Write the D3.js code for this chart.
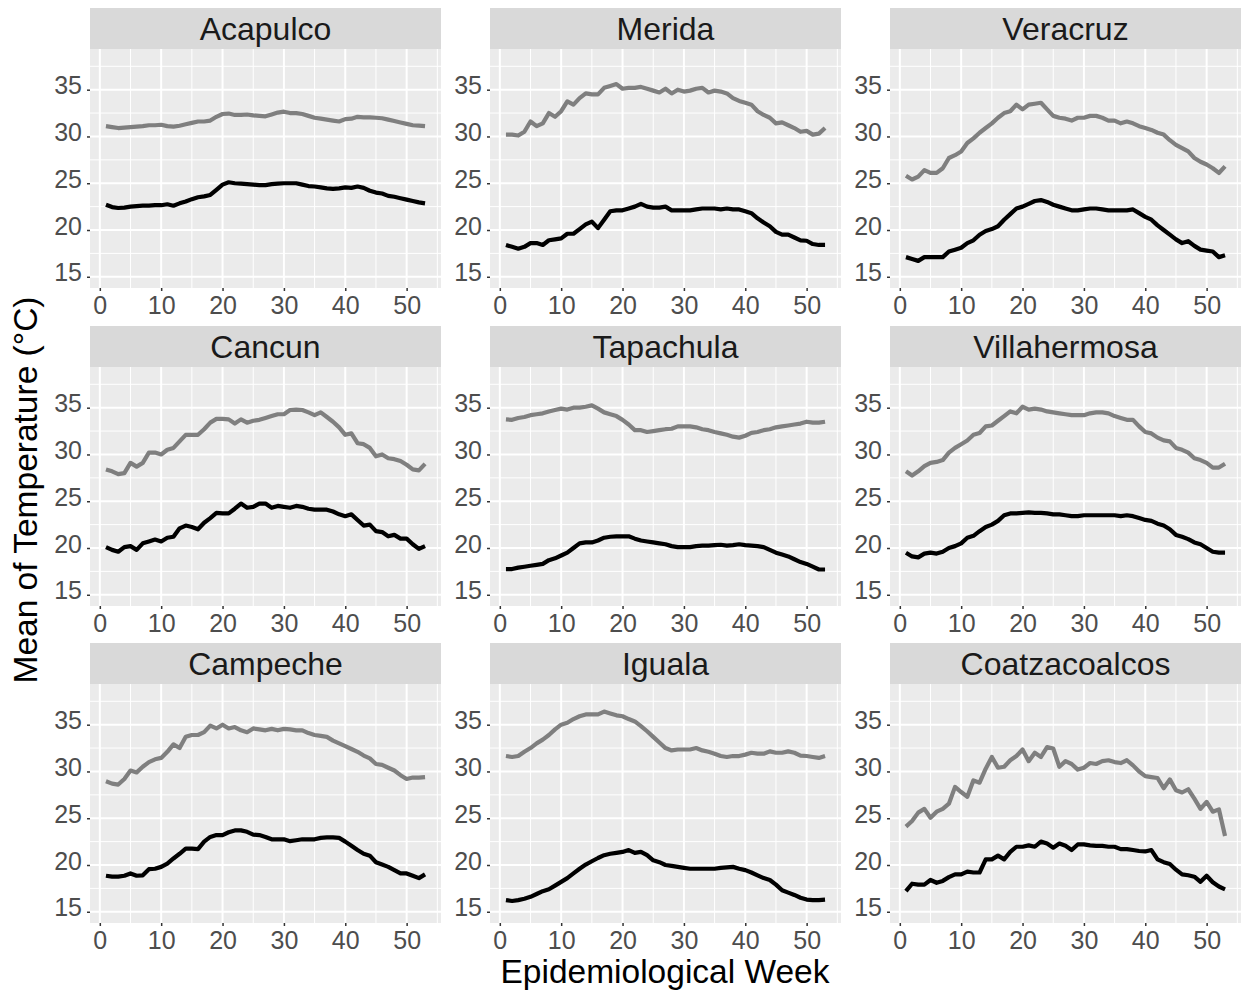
<!DOCTYPE html>
<html>
<head>
<meta charset="utf-8">
<script src="https://cdn.jsdelivr.net/npm/d3@7"></script>
<style>
  body { margin: 0; background: #ffffff; }
  text { font-family: "Liberation Sans", Arial, sans-serif; }
</style>
</head>
<body>
<div id="chart"></div>
<script>
// weeks 1..53
var weeks = d3.range(1, 54);

var cities = ["Acapulco", "Merida", "Veracruz", "Cancun", "Tapachula", "Villahermosa", "Campeche", "Iguala", "Coatzacoalcos"];

var xTicks = [0, 10, 20, 30, 40, 50];
var yTicks = [15, 20, 25, 30, 35];

// gray line = max temperature, black line = min temperature
var acapulcoMax = [31.1,31.0,30.9,30.95,31.0,31.05,31.1,31.2,31.2,31.25,31.1,31.05,31.15,31.3,31.45,31.6,31.6,31.7,32.1,32.4,32.45,32.3,32.3,32.35,32.25,32.2,32.15,32.35,32.55,32.65,32.5,32.5,32.4,32.2,32.0,31.9,31.8,31.7,31.6,31.85,31.9,32.1,32.05,32.05,32.0,31.95,31.8,31.65,31.5,31.35,31.2,31.15,31.1];
var acapulcoMin = [22.7,22.45,22.35,22.4,22.5,22.55,22.6,22.6,22.65,22.65,22.75,22.6,22.85,23.05,23.3,23.5,23.6,23.75,24.3,24.85,25.1,25.0,24.95,24.9,24.85,24.8,24.8,24.9,24.95,25.0,25.0,25.0,24.85,24.7,24.65,24.55,24.45,24.4,24.45,24.55,24.5,24.65,24.5,24.2,24.0,23.9,23.65,23.55,23.4,23.25,23.1,22.95,22.85];

var meridaMax = [30.2,30.2,30.1,30.5,31.6,31.1,31.4,32.5,32.1,32.7,33.75,33.4,34.1,34.6,34.5,34.5,35.2,35.4,35.6,35.1,35.2,35.2,35.3,35.1,34.9,34.7,35.1,34.6,35.0,34.8,34.9,35.1,35.2,34.7,34.9,34.8,34.6,34.1,33.8,33.6,33.4,32.7,32.3,32.0,31.4,31.5,31.2,30.9,30.5,30.6,30.2,30.3,30.9];
var meridaMin = [18.4,18.2,18.0,18.2,18.6,18.6,18.4,18.9,19.0,19.1,19.6,19.6,20.1,20.6,20.9,20.2,21.1,22.0,22.1,22.1,22.3,22.5,22.8,22.5,22.4,22.4,22.5,22.1,22.1,22.1,22.1,22.2,22.3,22.3,22.3,22.2,22.3,22.2,22.2,22.0,21.8,21.25,20.8,20.4,19.8,19.5,19.5,19.2,18.9,18.85,18.5,18.4,18.4];

var veracruzMax = [25.8,25.4,25.7,26.4,26.1,26.1,26.6,27.7,28.0,28.4,29.3,29.8,30.4,30.9,31.4,32.0,32.5,32.7,33.4,32.9,33.4,33.5,33.6,32.9,32.2,32.0,31.9,31.7,32.0,32.0,32.2,32.2,32.0,31.7,31.7,31.4,31.6,31.4,31.1,30.9,30.7,30.4,30.2,29.6,29.1,28.75,28.4,27.7,27.3,27.0,26.6,26.1,26.8];
var veracruzMin = [17.1,16.9,16.7,17.1,17.1,17.1,17.1,17.7,17.9,18.1,18.6,18.9,19.5,19.9,20.1,20.4,21.1,21.7,22.3,22.5,22.8,23.1,23.2,23.0,22.7,22.5,22.3,22.1,22.1,22.2,22.3,22.3,22.2,22.1,22.1,22.1,22.1,22.2,21.8,21.4,21.1,20.5,20.0,19.5,19.0,18.6,18.8,18.3,17.9,17.8,17.7,17.1,17.3];

var cancunMax = [28.4,28.2,27.9,28.0,29.1,28.7,29.1,30.2,30.2,30.0,30.5,30.7,31.4,32.1,32.1,32.1,32.7,33.4,33.8,33.8,33.75,33.3,33.75,33.4,33.6,33.7,33.9,34.1,34.3,34.3,34.75,34.8,34.75,34.5,34.2,34.5,34.0,33.5,32.9,32.1,32.25,31.2,31.1,30.7,29.8,30.0,29.6,29.5,29.3,28.9,28.4,28.3,29.0];
var cancunMin = [20.1,19.8,19.6,20.1,20.2,19.8,20.5,20.7,20.9,20.7,21.1,21.2,22.1,22.4,22.25,22.0,22.7,23.2,23.75,23.7,23.7,24.2,24.75,24.3,24.4,24.75,24.75,24.3,24.5,24.4,24.3,24.5,24.4,24.2,24.1,24.1,24.1,23.9,23.6,23.4,23.6,23.0,22.4,22.5,21.8,21.7,21.25,21.4,21.0,21.0,20.4,19.9,20.2];

var tapachulaMax = [33.75,33.7,33.9,34.0,34.2,34.3,34.4,34.6,34.75,34.9,34.8,35.0,35.0,35.1,35.25,34.9,34.5,34.3,34.1,33.7,33.2,32.6,32.6,32.4,32.5,32.6,32.7,32.75,33.0,33.0,33.0,32.9,32.7,32.6,32.4,32.25,32.1,31.9,31.8,32.0,32.3,32.4,32.6,32.7,32.9,33.0,33.1,33.2,33.3,33.5,33.4,33.4,33.5];
var tapachulaMin = [17.75,17.75,17.9,18.0,18.1,18.2,18.3,18.7,18.9,19.2,19.5,20.0,20.5,20.6,20.6,20.8,21.1,21.2,21.25,21.25,21.25,21.0,20.8,20.7,20.6,20.5,20.4,20.2,20.1,20.1,20.1,20.2,20.25,20.25,20.3,20.35,20.25,20.3,20.4,20.3,20.25,20.2,20.1,19.8,19.5,19.3,19.1,18.8,18.5,18.3,18.0,17.7,17.7];

var villahermosaMax = [28.2,27.75,28.2,28.75,29.1,29.2,29.4,30.2,30.7,31.1,31.5,32.1,32.3,33.0,33.1,33.6,34.1,34.6,34.4,35.1,34.8,34.9,34.8,34.6,34.5,34.4,34.3,34.2,34.2,34.2,34.4,34.5,34.5,34.4,34.1,33.9,33.7,33.7,33.0,32.4,32.25,31.8,31.5,31.4,30.7,30.5,30.2,29.6,29.4,29.1,28.6,28.6,29.0];
var villahermosaMin = [19.5,19.1,19.0,19.4,19.5,19.4,19.6,20.0,20.2,20.5,21.1,21.3,21.8,22.25,22.5,22.9,23.5,23.7,23.7,23.75,23.8,23.75,23.75,23.7,23.6,23.6,23.5,23.4,23.4,23.5,23.5,23.5,23.5,23.5,23.5,23.4,23.5,23.4,23.2,23.0,22.9,22.6,22.4,22.0,21.4,21.2,20.95,20.6,20.4,20.0,19.6,19.5,19.5];

var campecheMax = [28.95,28.7,28.6,29.2,30.1,29.9,30.5,31.0,31.3,31.45,32.1,32.9,32.5,33.7,33.9,33.9,34.2,34.9,34.6,35.0,34.6,34.75,34.4,34.2,34.6,34.5,34.4,34.55,34.4,34.55,34.5,34.4,34.4,34.1,33.9,33.8,33.7,33.3,33.0,32.7,32.4,32.1,31.7,31.4,30.8,30.7,30.4,30.1,29.6,29.2,29.35,29.35,29.4];
var campecheMin = [18.85,18.75,18.75,18.85,19.1,18.85,18.9,19.55,19.6,19.8,20.15,20.7,21.2,21.75,21.75,21.7,22.5,23.0,23.2,23.2,23.5,23.7,23.7,23.55,23.25,23.2,23.0,22.75,22.75,22.75,22.55,22.65,22.75,22.75,22.75,22.9,22.95,22.95,22.9,22.5,22.05,21.6,21.2,21.0,20.3,20.05,19.8,19.45,19.1,19.1,18.85,18.6,19.0];

var igualaMax = [31.65,31.55,31.65,32.1,32.5,33.0,33.4,33.9,34.5,35.0,35.2,35.6,35.9,36.1,36.1,36.1,36.4,36.2,36.0,35.9,35.6,35.35,34.85,34.3,33.7,33.1,32.5,32.25,32.35,32.35,32.35,32.5,32.25,32.1,31.9,31.65,31.55,31.65,31.65,31.8,32.0,31.9,31.9,32.15,32.0,32.0,32.15,32.0,31.7,31.65,31.55,31.45,31.65];
var igualaMin = [16.25,16.15,16.25,16.4,16.6,16.9,17.2,17.4,17.8,18.2,18.6,19.1,19.6,20.05,20.4,20.75,21.05,21.2,21.3,21.4,21.6,21.3,21.4,21.05,20.5,20.3,20.0,19.9,19.8,19.7,19.6,19.6,19.6,19.6,19.6,19.7,19.75,19.8,19.6,19.45,19.2,18.9,18.6,18.4,17.9,17.3,17.05,16.8,16.5,16.3,16.25,16.25,16.3];

var coatzacoalcosMax = [24.1,24.7,25.6,26.0,25.05,25.7,26.0,26.55,28.35,27.8,27.3,29.05,28.8,30.3,31.55,30.4,30.5,31.2,31.65,32.35,31.1,32.0,31.55,32.6,32.45,30.5,31.1,30.8,30.2,30.4,30.9,30.8,31.1,31.2,31.0,30.9,31.2,30.65,30.0,29.5,29.4,29.3,28.2,29.15,28.0,27.75,28.1,27.1,26.0,26.75,25.7,25.95,23.1];
var coatzacoalcosMin = [17.2,18.0,17.9,17.9,18.4,18.1,18.3,18.7,19.0,19.0,19.3,19.2,19.2,20.6,20.6,21.0,20.6,21.4,21.95,21.95,22.1,21.95,22.5,22.3,21.85,22.3,22.05,21.6,22.2,22.2,22.1,22.05,22.05,21.95,21.95,21.7,21.7,21.6,21.5,21.45,21.6,20.6,20.3,20.1,19.5,19.0,18.9,18.75,18.2,18.85,18.15,17.7,17.4];

var maxSeries = [acapulcoMax, meridaMax, veracruzMax, cancunMax, tapachulaMax, villahermosaMax, campecheMax, igualaMax, coatzacoalcosMax];
var minSeries = [acapulcoMin, meridaMin, veracruzMin, cancunMin, tapachulaMin, villahermosaMin, campecheMin, igualaMin, coatzacoalcosMin];

var W = 1241, H = 994;
var colLeft = [90, 490, 890];
var rowTop = [8, 326, 643];
var panelW = 351, stripH = 41, panelH = 239;

var svg = d3.select("#chart").append("svg")
  .attr("width", W).attr("height", H)
  .style("background", "#ffffff");

var x = d3.scaleLinear().domain([-1.6, 55.6]).range([0, panelW]);
var y = d3.scaleLinear().domain([13.8, 39.35]).range([panelH, 0]);

var line = d3.line()
  .x(function (d, i) { return x(weeks[i]); })
  .y(function (d) { return y(d); })
  .curve(d3.curveLinear);

cities.forEach(function (city, k) {
  var col = k % 3, row = Math.floor(k / 3);
  var left = colLeft[col], top = rowTop[row];

  // strip
  svg.append("rect")
    .attr("x", left).attr("y", top)
    .attr("width", panelW).attr("height", stripH)
    .attr("fill", "#d9d9d9");
  svg.append("text")
    .attr("x", left + panelW / 2).attr("y", top + stripH / 2)
    .attr("dy", "0.36em")
    .attr("text-anchor", "middle")
    .style("font-size", "32px")
    .attr("fill", "#1a1a1a")
    .text(city);

  var g = svg.append("g")
    .attr("transform", "translate(" + left + "," + (top + stripH) + ")");

  g.append("rect")
    .attr("width", panelW).attr("height", panelH)
    .attr("fill", "#ebebeb");

  // minor grid
  var xMinor = [5, 15, 25, 35, 45, 55];
  var yMinor = [17.5, 22.5, 27.5, 32.5, 37.5];
  g.selectAll(".xminor").data(xMinor).enter().append("line")
    .attr("x1", d => x(d)).attr("x2", d => x(d))
    .attr("y1", 0).attr("y2", panelH)
    .attr("stroke", "#ffffff").attr("stroke-width", 1);
  g.selectAll(".yminor").data(yMinor).enter().append("line")
    .attr("y1", d => y(d)).attr("y2", d => y(d))
    .attr("x1", 0).attr("x2", panelW)
    .attr("stroke", "#ffffff").attr("stroke-width", 1);

  // major grid
  g.selectAll(".xmajor").data(xTicks).enter().append("line")
    .attr("x1", d => x(d)).attr("x2", d => x(d))
    .attr("y1", 0).attr("y2", panelH)
    .attr("stroke", "#ffffff").attr("stroke-width", 2);
  g.selectAll(".ymajor").data(yTicks).enter().append("line")
    .attr("y1", d => y(d)).attr("y2", d => y(d))
    .attr("x1", 0).attr("x2", panelW)
    .attr("stroke", "#ffffff").attr("stroke-width", 2);

  // lines
  g.append("path").datum(maxSeries[k])
    .attr("d", line)
    .attr("fill", "none")
    .attr("stroke", "#7f7f7f")
    .attr("stroke-width", 4.2)
    .attr("stroke-linejoin", "round")
    .attr("stroke-linecap", "butt");
  g.append("path").datum(minSeries[k])
    .attr("d", line)
    .attr("fill", "none")
    .attr("stroke", "#000000")
    .attr("stroke-width", 4.2)
    .attr("stroke-linejoin", "round")
    .attr("stroke-linecap", "butt");

  // y axis
  var ya = g.append("g")
    .call(d3.axisLeft(y).tickValues(yTicks).tickSize(3).tickPadding(5));
  ya.select(".domain").remove();
  ya.selectAll("line").attr("stroke", "#333333").attr("stroke-width", 1.5);
  ya.selectAll("text")
    .style("font-size", "25px")
    .attr("fill", "#4d4d4d")
    .attr("dy", "0.16em");

  // x axis
  var xa = g.append("g")
    .attr("transform", "translate(0," + panelH + ")")
    .call(d3.axisBottom(x).tickValues(xTicks).tickSize(3).tickPadding(5));
  xa.select(".domain").remove();
  xa.selectAll("line").attr("stroke", "#333333").attr("stroke-width", 1.5);
  xa.selectAll("text")
    .style("font-size", "25px")
    .attr("fill", "#4d4d4d");
});

// axis titles
svg.append("text")
  .attr("x", 665).attr("y", 983)
  .attr("text-anchor", "middle")
  .style("font-size", "33.5px")
  .attr("fill", "#000000")
  .text("Epidemiological Week");

svg.append("text")
  .attr("transform", "translate(37,490) rotate(-90)")
  .attr("text-anchor", "middle")
  .style("font-size", "33.5px")
  .attr("fill", "#000000")
  .text("Mean of Temperature (°C)");
</script>
</body>
</html>
